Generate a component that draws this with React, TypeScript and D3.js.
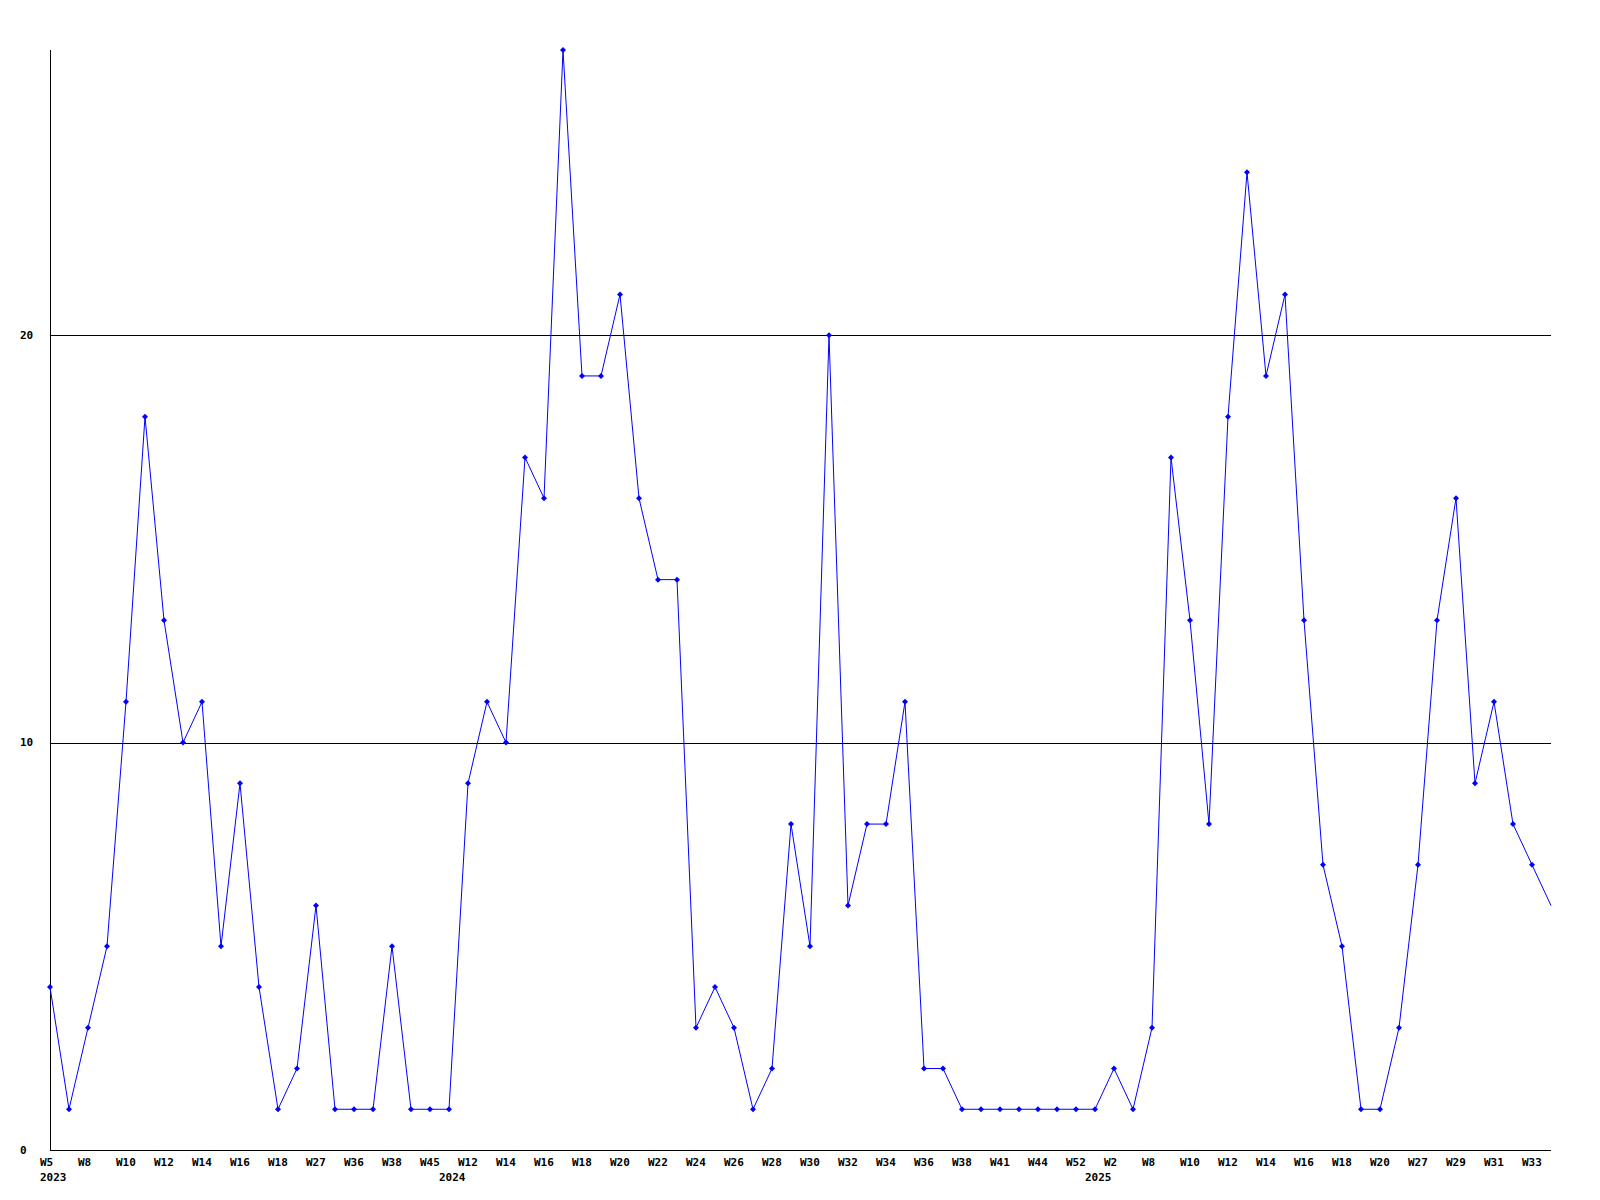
import React from "react";
import * as d3 from "d3";

const weeks: string[] = [
  "W5", "W7", "W8", "W9", "W10", "W11", "W12", "W13", "W14", "W15",
  "W16", "W17", "W18", "W19", "W27", "W35", "W36", "W37", "W38", "W40",
  "W45", "W11", "W12", "W13", "W14", "W15", "W16", "W17", "W18", "W19",
  "W20", "W21", "W22", "W23", "W24", "W25", "W26", "W27", "W28", "W29",
  "W30", "W31", "W32", "W33", "W34", "W35", "W36", "W37", "W38", "W40",
  "W41", "W43", "W44", "W47", "W52", "W1", "W2", "W7", "W8", "W9",
  "W10", "W11", "W12", "W13", "W14", "W15", "W16", "W17", "W18", "W19",
  "W20", "W26", "W27", "W28", "W29", "W30", "W31", "W32", "W33", "W34",
];

const values: number[] = [
  4, 1, 3, 5, 11, 18, 13, 10, 11, 5,
  9, 4, 1, 2, 6, 1, 1, 1, 5, 1,
  1, 1, 9, 11, 10, 17, 16, 27, 19, 19,
  21, 16, 14, 14, 3, 4, 3, 1, 2, 8,
  5, 20, 6, 8, 8, 11, 2, 2, 1, 1,
  1, 1, 1, 1, 1, 1, 2, 1, 3, 17,
  13, 8, 18, 24, 19, 21, 13, 7, 5, 1,
  1, 3, 7, 13, 16, 9, 11, 8, 7, 6,
];

// year label placed at first index of each year
const yearStarts: { index: number; label: string }[] = [
  { index: 0, label: "2023" },
  { index: 21, label: "2024" },
  { index: 55, label: "2025" },
];

const yTicks: number[] = [0, 10, 20];
const yMax = 27;

export default function App() {
  const left = 50;
  const right = 1551;
  const top = 50;
  const bottom = 1150;

  const x = d3
    .scaleLinear()
    .domain([0, values.length - 1])
    .range([left, right]);
  const y = d3.scaleLinear().domain([0, yMax]).range([bottom, top]);

  const line = d3
    .line<number>()
    .x((_, i) => x(i))
    .y((d) => y(d));

  const font = "'DejaVu Sans Mono', monospace";

  return (
    <svg
      width={1600}
      height={1200}
      style={{ position: "absolute", left: 0, top: 0, background: "#fff" }}
      shapeRendering="crispEdges"
    >
      <rect x={0} y={0} width={1600} height={1200} fill="#fff" />
      {/* grid lines */}
      {yTicks
        .filter((t) => t > 0)
        .map((t) => (
          <line
            key={"g" + t}
            x1={left}
            x2={right}
            y1={Math.round(y(t)) + 0.5}
            y2={Math.round(y(t)) + 0.5}
            stroke="#000"
            strokeWidth={1}
          />
        ))}
      {/* axes */}
      <line x1={left + 0.5} x2={left + 0.5} y1={top} y2={bottom + 1} stroke="#000" strokeWidth={1} />
      <line x1={left} x2={right} y1={bottom + 0.5} y2={bottom + 0.5} stroke="#000" strokeWidth={1} />
      {/* y labels */}
      {yTicks.map((t) => (
        <text
          key={"yl" + t}
          x={20}
          y={y(t)}
          dy="0.35em"
          fontFamily={font}
          fontWeight="bold"
          fontSize={11}
          fill="#000"
        >
          {t}
        </text>
      ))}
      {/* x labels */}
      {weeks.map((w, i) =>
        i % 2 === 0 ? (
          <text
            key={"xl" + i}
            x={x(i) - 10}
            y={1162}
            dy="0.35em"
            fontFamily={font}
            fontWeight="bold"
            fontSize={11}
            fill="#000"
          >
            {w}
          </text>
        ) : null
      )}
      {yearStarts.map((ys) => (
        <text
          key={"yr" + ys.label}
          x={x(ys.index) - 10}
          y={1177}
          dy="0.35em"
          fontFamily={font}
          fontWeight="bold"
          fontSize={11}
          fill="#000"
        >
          {ys.label}
        </text>
      ))}
      {/* series */}
      <path
        d={line(values) || ""}
        fill="none"
        stroke="#0000ff"
        strokeWidth={1}
        shapeRendering="auto"
      />
      {values.map((v, i) =>
        i < values.length - 1 ? (
          <path
            key={"m" + i}
            d={`M${x(i)},${y(v) - 3}L${x(i) + 3},${y(v)}L${x(i)},${y(v) + 3}L${x(i) - 3},${y(v)}Z`}
            fill="#0000ff"
            shapeRendering="auto"
          />
        ) : null
      )}
    </svg>
  );
}
